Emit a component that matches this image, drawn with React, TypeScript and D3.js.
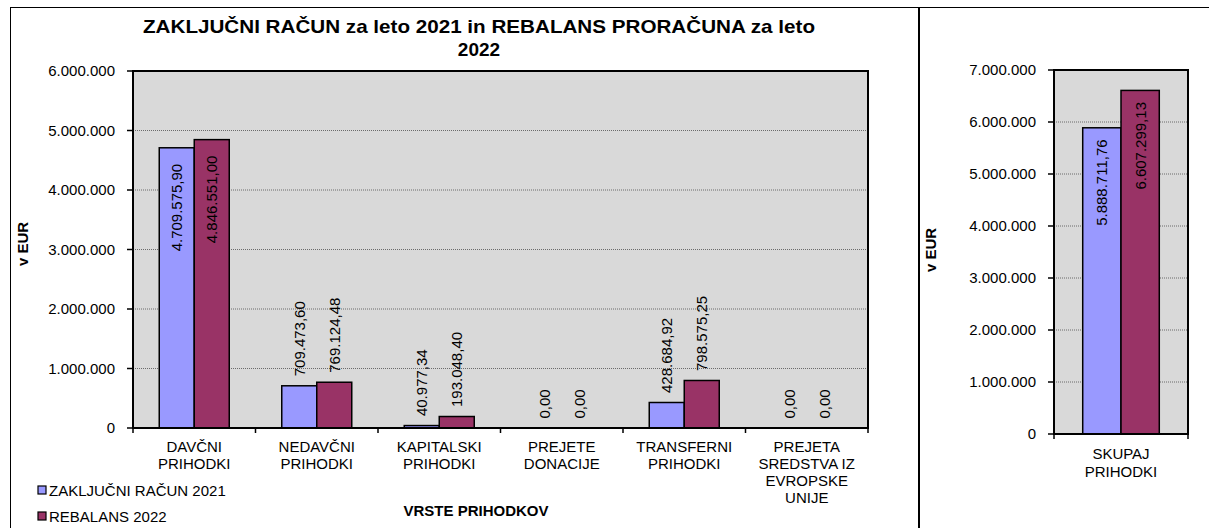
import * as d3 from "d3";

const categories = [
  ["DAVČNI", "PRIHODKI"],
  ["NEDAVČNI", "PRIHODKI"],
  ["KAPITALSKI", "PRIHODKI"],
  ["PREJETE", "DONACIJE"],
  ["TRANSFERNI", "PRIHODKI"],
  ["PREJETA", "SREDSTVA IZ", "EVROPSKE", "UNIJE"],
];
const seriesNames = ["ZAKLJUČNI RAČUN 2021", "REBALANS 2022"];
const zakljucni2021 = [4709575.9, 709473.6, 40977.34, 0, 428684.92, 0];
const rebalans2022 = [4846551.0, 769124.48, 193048.4, 0, 798575.25, 0];

const totalCategories = [["SKUPAJ", "PRIHODKI"]];
const totalZakljucni = [5888711.76];
const totalRebalans = [6607299.13];

const leftTicks = [0, 1000000, 2000000, 3000000, 4000000, 5000000, 6000000];
const rightTicks = [0, 1000000, 2000000, 3000000, 4000000, 5000000, 6000000, 7000000];

const title = ["ZAKLJUČNI RAČUN za leto 2021 in REBALANS PRORAČUNA za leto", "2022"];
const colors = ["#9999FF", "#993366"];
const FONT = "Arial, 'Liberation Sans', sans-serif";

const sl = d3.formatLocale({ decimal: ",", thousands: ".", grouping: [3], currency: ["", ""] });
const tickFmt = sl.format(",.0f");
const valFmt = sl.format(",.2f");

type PanelProps = {
  cats: string[][];
  series: number[][];
  ticks: number[];
  x0: number;
  x1: number;
  yTop: number;
  yBottom: number;
  labelRight: number;
  insidePad: number;
  catLineY: number;
  catLineH: number;
};

function Panel(p: PanelProps) {
  const y = d3.scaleLinear().domain([0, p.ticks[p.ticks.length - 1]]).range([p.yBottom, p.yTop]);
  const xc = d3.scaleBand<number>().domain(p.cats.map((_, i) => i)).range([p.x0, p.x1]).padding(0);
  const xs = d3
    .scaleBand<number>()
    .domain(p.series.map((_, i) => i))
    .range([0, xc.bandwidth()])
    .paddingInner(0)
    .paddingOuter(0.75);
  const boundaries = [...p.cats.map((_, i) => xc(i)!), p.x1];

  return (
    <g>
      <rect x={p.x0} y={p.yTop} width={p.x1 - p.x0} height={p.yBottom - p.yTop} fill="#D9D9D9" />
      {p.ticks.slice(1, -1).map((t) => (
        <line key={t} x1={p.x0} x2={p.x1} y1={y(t)} y2={y(t)} stroke="#6b6b6b" strokeWidth={1} strokeDasharray="1 1" />
      ))}
      {p.series.map((vals, s) =>
        vals.map((v, i) => (
          <rect
            key={`${s}-${i}`}
            x={xc(i)! + xs(s)!}
            y={y(v)}
            width={xs.bandwidth()}
            height={p.yBottom - y(v)}
            fill={colors[s]}
            stroke="#000"
            strokeWidth={1.5}
          />
        ))
      )}
      <rect x={p.x0} y={p.yTop} width={p.x1 - p.x0} height={p.yBottom - p.yTop} fill="none" stroke="#000" strokeWidth={2} />
      {p.ticks.map((t) => (
        <g key={t}>
          <line x1={p.x0 - 6} x2={p.x0} y1={y(t)} y2={y(t)} stroke="#000" strokeWidth={1.5} />
          <text x={p.labelRight} y={y(t)} dy="0.36em" textAnchor="end" fontSize={15} fill="#000">
            {tickFmt(t)}
          </text>
        </g>
      ))}
      {boundaries.map((b, i) => (
        <line key={i} x1={b} x2={b} y1={p.yBottom} y2={p.yBottom + 5} stroke="#000" strokeWidth={1.5} />
      ))}
      {p.cats.map((lines, i) => (
        <text key={i} textAnchor="middle" fontSize={15} fill="#000">
          {lines.map((ln, k) => (
            <tspan key={k} x={xc(i)! + xc.bandwidth() / 2} y={p.catLineY + k * p.catLineH}>
              {ln}
            </tspan>
          ))}
        </text>
      ))}
      {p.series.map((vals, s) =>
        vals.map((v, i) => {
          const label = valFmt(v);
          const cx = xc(i)! + xs(s)! + xs.bandwidth() / 2;
          const top = y(v);
          const estLen = label.length * 0.5 * 15;
          const inside = top - 10 - estLen < p.yTop;
          const ty = inside ? top + p.insidePad : top - 9.5;
          return (
            <text
              key={`l${s}-${i}`}
              transform={`translate(${cx},${ty}) rotate(-90)`}
              dy="0.36em"
              textAnchor={inside ? "end" : "start"}
              fontSize={15}
              fill="#000"
            >
              {label}
            </text>
          );
        })
      )}
    </g>
  );
}

export default function App() {
  return (
    <div style={{ position: "absolute", left: 0, top: 0 }}>
      <svg width={1209} height={528} style={{ display: "block", fontFamily: FONT }}>
        <rect x={0} y={0} width={1209} height={528} fill="#fff" />
        <rect x={10.5} y={7.5} width={908} height={560} fill="none" stroke="#000" strokeWidth={1} />
        <rect x={919.5} y={7.5} width={320} height={560} fill="none" stroke="#000" strokeWidth={1} />

        <text x={479} y={33} textAnchor="middle" fontSize={19} fontWeight="bold" textLength={672} lengthAdjust="spacingAndGlyphs">
          {title[0]}
        </text>
        <text x={479} y={56} textAnchor="middle" fontSize={19} fontWeight="bold">
          {title[1]}
        </text>

        <Panel
          cats={categories}
          series={[zakljucni2021, rebalans2022]}
          ticks={leftTicks}
          x0={133}
          x1={868}
          yTop={71}
          yBottom={428}
          labelRight={115}
          insidePad={16}
          catLineY={452}
          catLineH={17}
        />
        <Panel
          cats={totalCategories}
          series={[totalZakljucni, totalRebalans]}
          ticks={rightTicks}
          x0={1054}
          x1={1188}
          yTop={70}
          yBottom={434}
          labelRight={1036}
          insidePad={11.6}
          catLineY={458.5}
          catLineH={18}
        />

        <text transform="translate(23,244) rotate(-90)" dy="0.36em" textAnchor="middle" fontSize={15} fontWeight="bold">
          v EUR
        </text>
        <text transform="translate(931,250) rotate(-90)" dy="0.36em" textAnchor="middle" fontSize={15} fontWeight="bold">
          v EUR
        </text>
        <text x={476} y={515.5} textAnchor="middle" fontSize={15} fontWeight="bold">
          VRSTE PRIHODKOV
        </text>

        {seriesNames.map((name, i) => (
          <g key={name}>
            <rect x={38} y={486 + i * 26} width={8} height={8} fill={colors[i]} stroke="#000" strokeWidth={1.2} />
            <text x={49} y={495.5 + i * 26} fontSize={15}>
              {name}
            </text>
          </g>
        ))}
      </svg>
    </div>
  );
}
